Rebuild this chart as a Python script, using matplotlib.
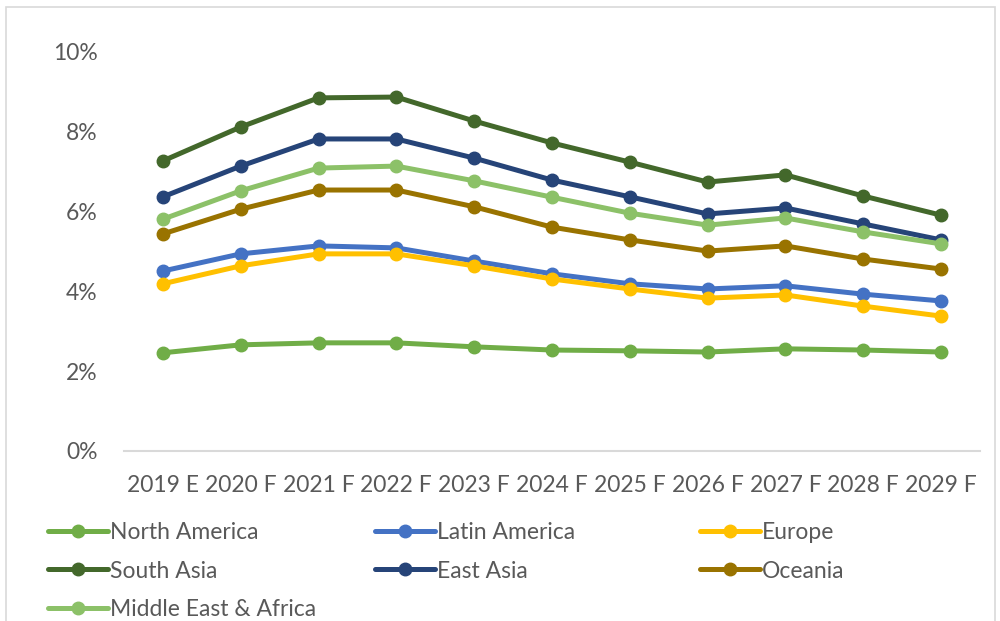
import matplotlib
matplotlib.use("Agg")
import matplotlib.pyplot as plt
from matplotlib.patches import Rectangle
from matplotlib.ticker import FuncFormatter

years = ["2019 E", "2020 F", "2021 F", "2022 F", "2023 F", "2024 F",
         "2025 F", "2026 F", "2027 F", "2028 F", "2029 F"]

north_america = [2.46, 2.66, 2.71, 2.71, 2.61, 2.53, 2.51, 2.48, 2.56, 2.53, 2.48]
latin_america = [4.51, 4.94, 5.14, 5.09, 4.76, 4.44, 4.19, 4.06, 4.14, 3.93, 3.76]
europe = [4.19, 4.64, 4.94, 4.94, 4.64, 4.31, 4.06, 3.83, 3.91, 3.63, 3.38]
south_asia = [7.27, 8.12, 8.85, 8.87, 8.27, 7.72, 7.24, 6.74, 6.92, 6.39, 5.91]
east_asia = [6.37, 7.14, 7.82, 7.82, 7.34, 6.79, 6.37, 5.94, 6.09, 5.69, 5.29]
oceania = [5.44, 6.06, 6.54, 6.54, 6.12, 5.61, 5.29, 5.01, 5.14, 4.81, 4.56]
middle_east_africa = [5.81, 6.52, 7.09, 7.14, 6.77, 6.36, 5.96, 5.66, 5.84, 5.49, 5.19]

series = [
    ("North America", north_america, "#70AD47"),
    ("Latin America", latin_america, "#4472C4"),
    ("Europe", europe, "#FFC000"),
    ("South Asia", south_asia, "#43682B"),
    ("East Asia", east_asia, "#264478"),
    ("Oceania", oceania, "#997300"),
    ("Middle East & Africa", middle_east_africa, "#8CC168"),
]

plt.rcParams["font.family"] = ["Lato", "DejaVu Sans"]
text_color = "#595959"
fs = 16.5

fig = plt.figure(figsize=(10, 6.21), dpi=100)
ax = fig.add_axes([0.124, 0.2738, 0.856, 0.6425])

x = list(range(len(years)))
handles = []
for name, vals, color in series:
    (h,) = ax.plot(x, vals, color=color, lw=3.6, marker="o", ms=9,
                   solid_capstyle="round", label=name)
    handles.append(h)

ax.set_xlim(-0.5, len(years) - 0.5)
ax.set_ylim(0, 10)
ax.set_yticks([0, 2, 4, 6, 8, 10])
ax.yaxis.set_major_formatter(FuncFormatter(lambda v, p: f"{v:.0f}%"))
ax.set_xticks(x)
ax.set_xticklabels(years)

for side in ["top", "right", "left"]:
    ax.spines[side].set_visible(False)
ax.spines["bottom"].set_color("#D9D9D9")
ax.spines["bottom"].set_linewidth(1.5)
ax.tick_params(axis="both", length=0, labelsize=fs, colors=text_color)
ax.tick_params(axis="y", pad=19)
ax.tick_params(axis="x", pad=17)

# chart frame
fig.patches.append(Rectangle((0.006, -0.01), 0.989, 0.999, transform=fig.transFigure,
                             fill=False, edgecolor="#D9D9D9", lw=1.2))

# legend in three columns
columns = [[0, 3, 6], [1, 4], [2, 5]]
col_x = [0.048, 0.375, 0.700]
for cols, cx in zip(columns, col_x):
    leg = fig.legend(handles=[handles[i] for i in cols], loc="upper left",
                     bbox_to_anchor=(cx, 0.160), frameon=False, fontsize=fs,
                     handlelength=2.6, handletextpad=0.12, labelspacing=0.78,
                     borderpad=0, borderaxespad=0)
    for t in leg.get_texts():
        t.set_color(text_color)

fig.savefig("out.png", dpi=100)
